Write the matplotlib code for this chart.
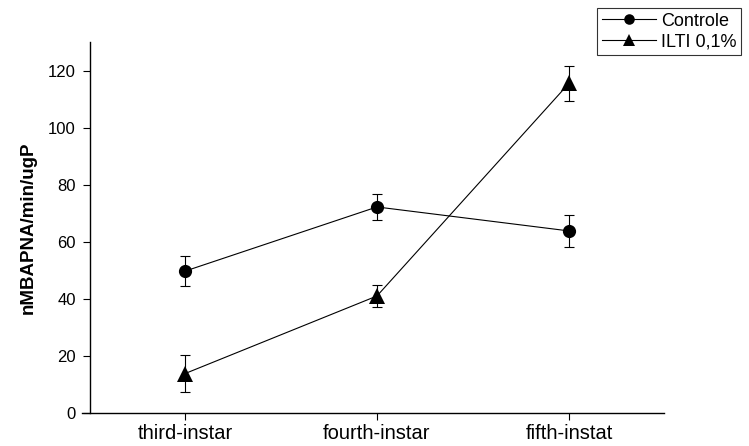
import matplotlib
matplotlib.use("Agg")
import matplotlib.pyplot as plt
import numpy as np

plt.rcParams['font.family'] = ['Liberation Sans', 'DejaVu Sans']

# =========================
# DATA
# =========================

stages = ["third-instar", "fourth-instar", "fifth-instat"]

controle = [49.7, 72.2, 63.8]
controle_err = [5.2, 4.4, 5.7]

ilti = [13.8, 41.0, 115.5]
ilti_err = [6.5, 4.0, 6.0]

# =========================
# PLOT
# =========================

fig = plt.figure(figsize=(7.49, 4.46), dpi=100)
ax = fig.add_axes([82 / 749, 1 - 413 / 446, (664 - 82) / 749, (413 - 42) / 446])

x = np.arange(len(stages))

# error bars (no legend entry)
ax.errorbar(x, controle, yerr=controle_err, fmt="none", ecolor="black",
            elinewidth=0.8, capsize=3.5, capthick=0.8)
ax.errorbar(x, ilti, yerr=ilti_err, fmt="none", ecolor="black",
            elinewidth=0.8, capsize=3.5, capthick=0.8)

ax.plot(x, controle, color="black", marker="o", markersize=9.5,
        markeredgewidth=0, linewidth=0.8, label="Controle")
ax.plot(x, ilti, color="black", marker="^", markersize=11.5,
        markeredgewidth=0, linewidth=0.8, label="ILTI 0,1%")

ax.set_xlim(-0.536, 2.495)
ax.set_ylim(0, 130)
ax.set_xticks(x)
ax.set_xticklabels(stages, fontsize=14.5)
ax.set_yticks(np.arange(0, 121, 20))
ax.tick_params(axis="y", labelsize=12, length=5, width=0.8, direction="out", pad=5)
ax.tick_params(axis="x", length=5, width=0.8, direction="out", pad=3)

for side in ["top", "right"]:
    ax.spines[side].set_visible(False)
ax.spines["left"].set_linewidth(1.0)
ax.spines["bottom"].set_linewidth(1.0)
ax.spines["left"].set_position(("data", -0.495))

ax.set_ylabel("nMBAPNA/min/ugP", fontsize=13.5, fontweight="bold", labelpad=8)

leg = fig.legend(loc="upper left", bbox_to_anchor=(597 / 749, 1 - 8 / 446),
                 fontsize=13, frameon=True, fancybox=False, edgecolor="black",
                 handlelength=3.0, handletextpad=0.3, borderpad=0.25,
                 labelspacing=0.2, borderaxespad=0, markerscale=0.8)
leg.get_frame().set_linewidth(0.8)

fig.savefig("out.png", dpi=100)
